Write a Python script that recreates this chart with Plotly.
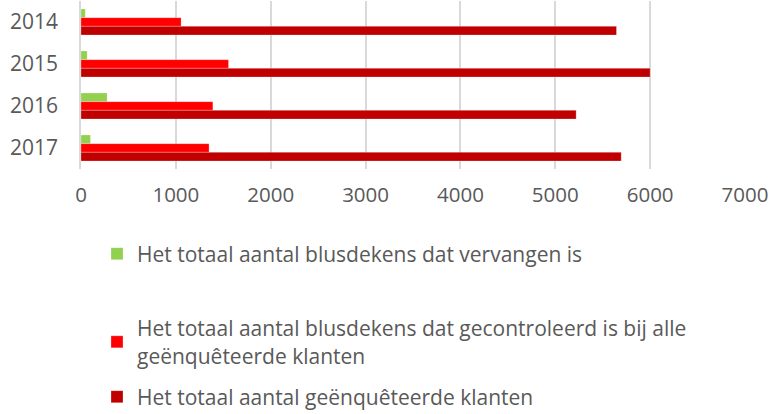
import plotly.graph_objects as go

years = ["2014", "2015", "2016", "2017"]
vervangen = [45, 65, 275, 100]
gecontroleerd = [1055, 1555, 1390, 1350]
klanten = [5645, 6000, 5220, 5695]
x_ticks = [0, 1000, 2000, 3000, 4000, 5000, 6000, 7000]

names = [
    "Het totaal aantal blusdekens dat vervangen is",
    "Het totaal aantal blusdekens dat gecontroleerd is bij alle<br>geënquêteerde klanten",
    "Het totaal aantal geënquêteerde klanten",
]
colors = ["#92D050", "#FF0000", "#C00000"]
series = [vervangen, gecontroleerd, klanten]

W, H = 773, 414
fig = go.Figure()
for i, (vals, name, col) in enumerate(zip(series, names, colors)):
    fig.add_trace(go.Bar(
        y=years, x=vals, orientation="h", name=name,
        marker=dict(color=col, line=dict(color="rgba(255,255,255,0.5)", width=0.5)),
        legend="legend" if i == 0 else f"legend{i+1}",
    ))

font_family = "Open Sans, Calibri, sans-serif"
legend_common = dict(
    xref="container", yref="container", xanchor="left", yanchor="middle",
    font=dict(family=font_family, size=21, color="#595959"),
    bgcolor="rgba(0,0,0,0)", borderwidth=0, itemclick=False,
)
fig.update_layout(
    width=W, height=H,
    margin=dict(l=81, r=28, t=1, b=245, autoexpand=False),
    paper_bgcolor="white", plot_bgcolor="white",
    barmode="group", bargap=0.38, bargroupgap=0,
    xaxis=dict(
        range=[0, 7000], tickvals=x_ticks, ticktext=[str(v) for v in x_ticks],
        showgrid=True, gridcolor="#D9D9D9", gridwidth=1.5,
        zeroline=False, showline=False, tickangle=0,
        tickfont=dict(family=font_family, size=20.5, color="#595959"),
        ticklabelstandoff=11,
    ),
    yaxis=dict(
        autorange="reversed", showgrid=False, zeroline=False,
        showline=True, linecolor="#D9D9D9", linewidth=1.5,
        tickfont=dict(family=font_family, size=21, color="#595959"),
        ticklabelstandoff=17,
    ),
    showlegend=True,
    legend=dict(x=97 / W, y=1 - 254 / H, **legend_common),
    legend2=dict(x=97 / W, y=1 - 342 / H, **legend_common),
    legend3=dict(x=97 / W, y=1 - 397 / H, **legend_common),
)
fig.write_html("out.html", config={"displayModeBar": False},
               post_script="document.body.style.margin='0';")
